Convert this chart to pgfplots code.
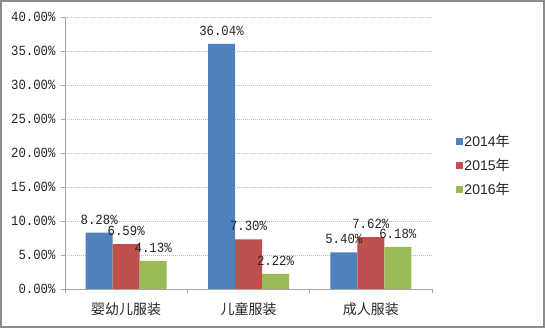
\documentclass[border=0pt]{standalone}
\usepackage{fontspec}
\setmainfont{Liberation Sans}
\setmonofont{Liberation Mono}
\newfontfamily\numfont[FakeStretch=0.88]{Liberation Mono}
\newfontfamily\cjk{Noto Sans CJK SC}
\usepackage{pgfplots}
\pgfplotsset{compat=1.18}
\definecolor{c1}{HTML}{4F81BD}
\definecolor{c2}{HTML}{C0504D}
\definecolor{c3}{HTML}{9BBB59}
\definecolor{axc}{HTML}{A6A6A6}
\definecolor{gridc}{HTML}{BFBFBF}
\definecolor{txt}{HTML}{262626}
\definecolor{frame}{HTML}{8C8C8C}
\begin{document}
\begin{tikzpicture}
\useasboundingbox (0,0) rectangle (545bp,328bp);
\fill[white] (0,0) rectangle (545bp,328bp);
\draw[line width=2bp, frame] (1bp,1bp) rectangle (544bp,327bp);
\begin{axis}[
  at={(65bp,39bp)}, anchor=south west,
  scale only axis, width=367bp, height=272bp,
  ybar=0pt, bar width=27bp,
  xmin=-0.5, xmax=2.5, ymin=0, ymax=40,
  axis x line*=bottom, axis y line*=left,
  axis line style={axc, line width=0.8bp},
  tick align=outside, major tick length=4bp,
  tick style={axc, line width=0.8bp},
  xtick={-0.5,0.5,1.5,2.5}, xticklabels={},
  extra x ticks={0,1,2},
  extra x tick labels={婴幼儿服装,儿童服装,成人服装},
  extra x tick style={major tick length=0pt, tick label style={font=\cjk\fontsize{14bp}{16bp}\selectfont, text=txt, yshift=-10bp}},
  ytick={0,5,...,40},
  yticklabel={\pgfmathprintnumber[fixed,fixed zerofill,precision=2,assume math mode=true]{\tick}\%},
  y tick label style={font=\numfont\fontsize{14bp}{16bp}\selectfont, text=txt, xshift=-2bp},
  ymajorgrids, grid style={gridc, line width=0.6bp, dash pattern=on 1bp off 1bp},
  nodes near coords={\pgfmathprintnumber[fixed,fixed zerofill,precision=2,assume math mode=true]{\pgfplotspointmeta}\%},
  every node near coord/.append style={font=\numfont\fontsize{14bp}{16bp}\selectfont, text=txt, yshift=5bp},
  legend style={at={(1.058,0.578)}, anchor=north west, draw=none, fill=none,
    font=\fontsize{14bp}{16bp}\selectfont, text=txt, row sep=8.5bp,
    nodes={inner sep=1bp}},
  legend cell align=left,
  legend image code/.code={\fill[#1,draw=none] (0bp,-3.5bp) rectangle (7bp,3.5bp);},
]
\addplot[fill=c1, draw=none] coordinates {(0,8.28) (1,36.04) (2,5.40)};
\addplot[fill=c2, draw=none] coordinates {(0,6.59) (1,7.30) (2,7.62)};
\addplot[fill=c3, draw=none] coordinates {(0,4.13) (1,2.22) (2,6.18)};
\legend{2014{\cjk 年},2015{\cjk 年},2016{\cjk 年}}
\end{axis}
\end{tikzpicture}
\end{document}
